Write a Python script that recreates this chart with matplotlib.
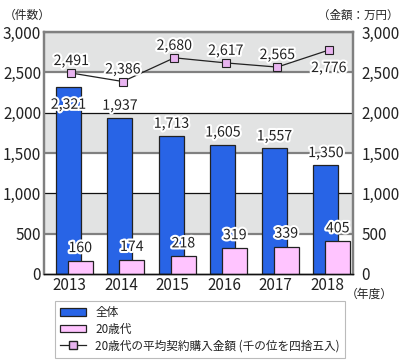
import matplotlib
matplotlib.use("Agg")
import matplotlib.pyplot as plt
import matplotlib.patheffects as pe
from matplotlib.patches import Patch
from matplotlib.lines import Line2D
import numpy as np

plt.rcParams['font.family'] = ['Noto Sans CJK JP', 'DejaVu Sans']

years = ["2013", "2014", "2015", "2016", "2017", "2018"]
total = [2321, 1937, 1713, 1605, 1557, 1350]
twenties = [160, 174, 218, 319, 339, 405]
avg_amount = [2491, 2386, 2680, 2617, 2565, 2776]
yticks = [0, 500, 1000, 1500, 2000, 2500, 3000]
ytick_labels = ["0", "500", "1,000", "1,500", "2,000", "2,500", "3,000"]

BLUE = "#2864E6"
PINK = "#FFC4FF"
MARK = "#E8B4F0"
TXT = "#222222"

fig = plt.figure(figsize=(4.0, 3.6), dpi=100)
ax = fig.add_axes([44/400, 1-274/360, (353-44)/400, (274-32)/360])
ax.set_xlim(-0.5, 5.5)
ax.set_ylim(0, 3000)

# background bands
for lo in (500, 1500, 2500):
    ax.axhspan(lo, lo+500, color="#E2E3E3", zorder=0, lw=0)
for y in (500, 1500, 2500, 3000):
    ax.axhline(y, color="#808080", lw=1.6, zorder=1)
for y in (1000, 2000):
    ax.axhline(y, color="#111111", lw=0.9, zorder=1)

x = np.arange(len(years))
w = 0.485
ax.bar(x - 0.025, total, width=w, color=BLUE, edgecolor="#222222", lw=0.9, zorder=2)
ax.bar(x + 0.205, twenties, width=w, color=PINK, edgecolor="#222222", lw=0.9, zorder=3)
ax.plot(x + 0.03, avg_amount, color="#222222", lw=0.9, marker="s", ms=5.5,
        mfc=MARK, mec="#222222", mew=0.8, zorder=4)

stroke = [pe.withStroke(linewidth=3, foreground="white")]
fs = 10.2
tfs = 11
for i, v in enumerate(total):
    off = -18 if i == 0 else 12
    ax.annotate(f"{v:,}", (x[i] - 0.025, v), xytext=(0, off), textcoords="offset pixels",
                ha="center", va="center", fontsize=fs, color=TXT, path_effects=stroke, zorder=6)
for i, v in enumerate(twenties):
    ax.annotate(f"{v:,}", (x[i] + 0.205, v), xytext=(0, 13), textcoords="offset pixels",
                ha="center", va="center", fontsize=fs, color=TXT, path_effects=stroke, zorder=6)
for i, v in enumerate(avg_amount):
    off = -18 if i == 5 else 12
    ax.annotate(f"{v:,}", (x[i] + 0.03, v), xytext=(0, off), textcoords="offset pixels",
                ha="center", va="center", fontsize=fs, color=TXT, path_effects=stroke, zorder=6)

ax.set_yticks(yticks)
ax.set_yticklabels(ytick_labels, fontsize=tfs, color=TXT)
ax.set_xticks(x)
ax.set_xticklabels(years, fontsize=tfs, color=TXT)
ax.tick_params(axis="both", length=0, pad=2)
ax2 = ax.twinx()
ax2.set_ylim(0, 3000)
ax2.set_yticks(yticks)
ax2.set_yticklabels(ytick_labels, fontsize=tfs, color=TXT)
ax2.tick_params(axis="y", length=0, pad=6)

for a in (ax, ax2):
    for s in ("left", "right", "top"):
        a.spines[s].set_color("#808080")
        a.spines[s].set_linewidth(1.6)
    a.spines["bottom"].set_color("#111111")
    a.spines["bottom"].set_linewidth(1.0)

fig.text(4/400, 1-15/360, "（件数）", fontsize=8.5, color=TXT, va="center", ha="left")
fig.text(398/400, 1-15/360, "（金額：万円）", fontsize=8.3, color=TXT, va="center", ha="right")
fig.text(346/400, 1-294/360, "（年度）", fontsize=8.5, color=TXT, va="center", ha="left")

handles = [
    Patch(facecolor=BLUE, edgecolor="#222222", lw=0.9),
    Patch(facecolor=PINK, edgecolor="#222222", lw=0.9),
    Line2D([], [], color="#222222", lw=0.9, marker="s", ms=5.5, mfc=MARK, mec="#222222"),
]
labels = ["全体", "20歳代", "20歳代の平均契約購入金額 (千の位を四捨五入)"]
leg = fig.legend(handles, labels, loc="upper left", bbox_to_anchor=(55/400, 1-301/360),
                 fontsize=8.4, frameon=True, fancybox=False, edgecolor="#AAAAAA",
                 handlelength=2.2, handleheight=0.6, borderpad=0.45, labelspacing=0.3,
                 handletextpad=0.8, borderaxespad=0)
leg.get_frame().set_linewidth(0.8)
for t in leg.get_texts():
    t.set_color(TXT)

fig.savefig("out.png", dpi=100)
